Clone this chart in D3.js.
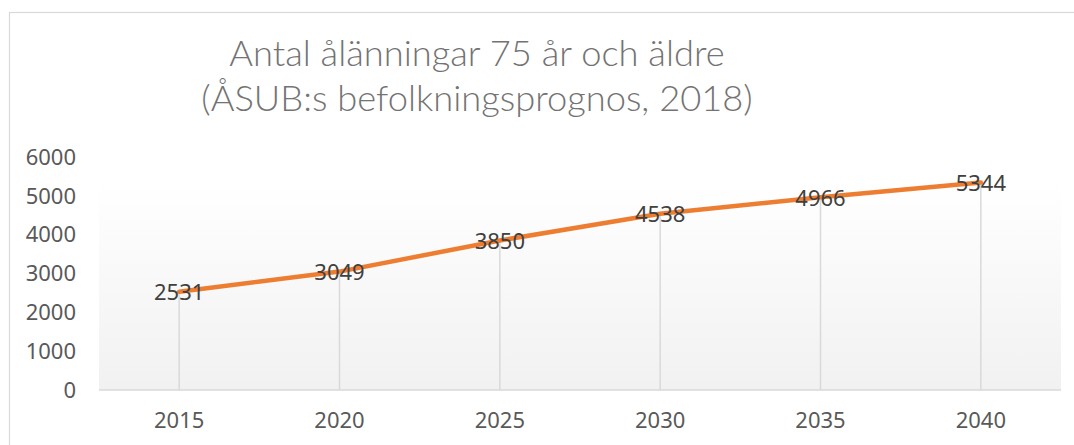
<!DOCTYPE html>
<html>
<head>
<meta charset="utf-8">
<script src="https://cdn.jsdelivr.net/npm/d3@7"></script>
<style>
  html, body { margin: 0; padding: 0; background: #ffffff; }
  svg { display: block; }
  .tick-label { font-family: "Noto Sans", "Open Sans", sans-serif; font-size: 22px; fill: #595959; }
  .data-label { font-family: "Noto Sans", "Open Sans", sans-serif; font-size: 22px; fill: #404040; }
  .title { font-family: Lato, "Open Sans", sans-serif; font-weight: 300; font-size: 36.3px; fill: #737373; }
</style>
</head>
<body>
<div id="chart"></div>
<script>
// chart data
const years = ['2015', '2020', '2025', '2030', '2035', '2040'];
const values = [2531, 3049, 3850, 4538, 4966, 5344];
const yTicks = [0, 1000, 2000, 3000, 4000, 5000, 6000];
const titleLines = ['Antal ålänningar 75 år och äldre', '(ÅSUB:s befolkningsprognos, 2018)'];

const width = 1074;
const height = 445;
const plot = { left: 99, right: 1061, top: 157, bottom: 390 };

const svg = d3.select('#chart')
    .append('svg')
    .attr('width', width)
    .attr('height', height);

// outer chart frame (runs off the right and bottom edges)
svg.append('rect')
    .attr('x', 9.5)
    .attr('y', 12.5)
    .attr('width', 1200)
    .attr('height', 600)
    .attr('fill', '#ffffff')
    .attr('stroke', '#d9d9d9')
    .attr('stroke-width', 1.2);

const x = d3.scaleBand()
    .domain(years)
    .range([plot.left, plot.right]);

const y = d3.scaleLinear()
    .domain([0, 6000])
    .range([plot.bottom, plot.top]);

const cx = (d) => x(d) + x.bandwidth() / 2;

// soft gradient behind the series
const grad = svg.append('defs')
    .append('linearGradient')
    .attr('id', 'plotGrad')
    .attr('x1', 0).attr('y1', 0)
    .attr('x2', 0).attr('y2', 1);
grad.append('stop').attr('offset', '0%').attr('stop-color', '#ffffff');
grad.append('stop').attr('offset', '100%').attr('stop-color', '#f1f1f1');

svg.append('rect')
    .attr('x', plot.left)
    .attr('y', y(d3.max(values)))
    .attr('width', plot.right - plot.left)
    .attr('height', y(0) - y(d3.max(values)))
    .attr('fill', 'url(#plotGrad)');

// drop lines
svg.append('g')
    .selectAll('line')
    .data(years)
    .join('line')
    .attr('x1', (d) => cx(d))
    .attr('x2', (d) => cx(d))
    .attr('y1', (d, i) => y(values[i]))
    .attr('y2', y(0))
    .attr('stroke', '#d9d9d9')
    .attr('stroke-width', 1.5);

// category axis line
svg.append('line')
    .attr('x1', plot.left)
    .attr('x2', plot.right)
    .attr('y1', y(0))
    .attr('y2', y(0))
    .attr('stroke', '#d9d9d9')
    .attr('stroke-width', 1.5);

// y tick labels
svg.append('g')
    .selectAll('text')
    .data(yTicks)
    .join('text')
    .attr('class', 'tick-label')
    .attr('x', 76)
    .attr('y', (d) => y(d))
    .attr('dy', '0.35em')
    .attr('text-anchor', 'end')
    .text((d) => d);

// x tick labels
svg.append('g')
    .selectAll('text')
    .data(years)
    .join('text')
    .attr('class', 'tick-label')
    .attr('x', (d) => cx(d))
    .attr('y', 420.5)
    .attr('dy', '0.35em')
    .attr('text-anchor', 'middle')
    .text((d) => d);

// the series line
const line = d3.line()
    .x((d) => cx(d))
    .y((d, i) => y(values[i]));

svg.append('path')
    .datum(years)
    .attr('fill', 'none')
    .attr('stroke', '#ed7d31')
    .attr('stroke-width', 4.5)
    .attr('stroke-linecap', 'round')
    .attr('stroke-linejoin', 'round')
    .attr('d', line);

// data labels centred on the points
svg.append('g')
    .selectAll('text')
    .data(years)
    .join('text')
    .attr('class', 'data-label')
    .attr('x', (d) => cx(d))
    .attr('y', (d, i) => y(values[i]) + 1)
    .attr('dy', '0.35em')
    .attr('text-anchor', 'middle')
    .text((d, i) => values[i]);

// title
svg.append('g')
    .selectAll('text')
    .data(titleLines)
    .join('text')
    .attr('class', 'title')
    .attr('x', 477)
    .attr('y', (d, i) => 66 + i * 44.5)
    .attr('text-anchor', 'middle')
    .text((d) => d);
</script>
</body>
</html>
